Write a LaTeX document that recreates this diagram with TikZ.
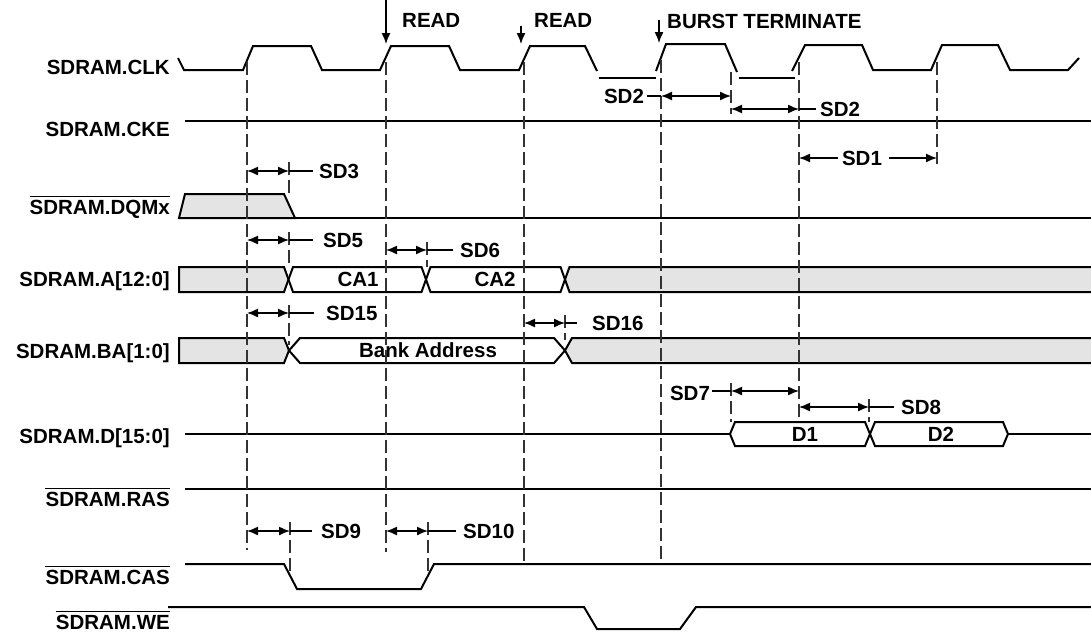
\documentclass[tikz,border=0pt]{standalone}
\usepackage{fontspec}
\setmainfont{Liberation Sans}
\usetikzlibrary{arrows.meta}
\definecolor{busgray}{HTML}{E4E4E4}
\begin{document}
\begin{tikzpicture}[x=1pt,y=-1pt,
  sig/.style={line width=2pt, black, line join=miter},
  bus/.style={sig, fill=busgray},
  guide/.style={line width=1.2pt, black!80, dash pattern=on 13pt off 5pt},
  dim/.style={line width=1.4pt, {Latex[length=11pt,width=9pt]}-{Latex[length=11pt,width=9pt]}},
  onehead/.style={line width=1.4pt, -{Latex[length=11pt,width=9pt]}},
  ext/.style={line width=1.1pt},
  lbl/.style={font=\fontsize{20.5}{20.5}\selectfont\bfseries, inner sep=0pt, text height=14.7pt, text depth=0pt},
  signame/.style={lbl, anchor=east},
  ovl/.style={line width=1.6pt}
]
\useasboundingbox (0,0) rectangle (1091,632);

% ---------- signal names ----------
\node[signame] (nclk) at (170,67)  {SDRAM.CLK};
\node[signame] (ncke) at (170,129) {SDRAM.CKE};
\node[signame] (ndqm) at (170,207) {SDRAM.DQMx};
\node[signame] (na)   at (170,279) {SDRAM.A[12:0]};
\node[signame] (nba)  at (170,351) {SDRAM.BA[1:0]};
\node[signame] (nd)   at (170,436) {SDRAM.D[15:0]};
\node[signame] (nras) at (170,499) {SDRAM.RAS};
\node[signame] (ncas) at (170,577) {SDRAM.CAS};
\node[signame] (nwe)  at (170,622) {SDRAM.WE};
\foreach \n in {ndqm,nras,ncas,nwe}
  \draw[ovl] ([yshift=3pt]\n.north west) -- ([yshift=3pt]\n.north east);

% ---------- CLK ----------
\draw[sig] (178,58) -- (184,70) -- (243,70) -- (253,46) -- (311,46) -- (322,70)
  -- (380,70) -- (391,46) -- (449,46) -- (460,70) -- (519,70) -- (530,46)
  -- (585,46) -- (597,71);
\draw[sig] (599,78) -- (656,78);
\draw[sig] (656,71) -- (666,44) -- (725,44) -- (737,72);
\draw[sig] (739,78) -- (795,78);
\draw[sig] (792,71) -- (805,45) -- (862,45) -- (873,70) -- (931,70) -- (942,45)
  -- (998,45) -- (1010,70) -- (1068,70) -- (1079,58);

% ---------- CKE ----------
\draw[sig] (185,121) -- (1093,121);

% ---------- DQMx ----------
\draw[bus] (179,218) -- (185,194) -- (284,194) -- (295,218) -- cycle;
\draw[sig] (295,218) -- (1093,218);

% ---------- A[12:0] ----------
\draw[bus] (179,267) -- (284,267) -- (288.5,279.5) -- (284,292) -- (179,292) -- cycle;
\draw[sig] (288.5,279.5) -- (293,267) -- (421.5,267) -- (426,279.5) -- (421.5,292) -- (293,292) -- cycle;
\draw[sig] (426,279.5) -- (430.5,267) -- (560.5,267) -- (565,279.5) -- (560.5,292) -- (430.5,292) -- cycle;
\draw[bus] (565,279.5) -- (569.5,267) -- (1095,267) -- (1095,292) -- (569.5,292) -- cycle;
\node[lbl] (ca1) at (358,279.5) {CA1};
\node[lbl] (ca2) at (495,279.5) {CA2};

% ---------- BA[1:0] ----------
\draw[bus] (179,338) -- (284,338) -- (289,350.5) -- (284,363) -- (179,363) -- cycle;
\draw[sig] (289,350.5) -- (300,338) -- (554,338) -- (565,350.5) -- (554,363) -- (300,363) -- cycle;
\draw[bus] (565,350.5) -- (572,338) -- (1095,338) -- (1095,363) -- (572,363) -- cycle;
\node[lbl] (bank) at (428,350.5) {Bank Address};

% ---------- D[15:0] ----------
\draw[sig] (185,434) -- (730,434);
\draw[sig] (730,434) -- (735,422) -- (865,422) -- (870,434) -- (865,446) -- (735,446) -- cycle;
\draw[sig] (870,434) -- (875,422) -- (1003,422) -- (1008,434) -- (1003,446) -- (875,446) -- cycle;
\draw[sig] (1008,434) -- (1093,434);
\node[lbl] (d1) at (805,434) {D1};
\node[lbl] (d2) at (941,434) {D2};

% ---------- RAS, CAS, WE ----------
\draw[sig] (185,489) -- (1093,489);
\draw[sig] (185,564) -- (284,564) -- (297,589) -- (421,589) -- (434,564) -- (1093,564);
\draw[sig] (168,607) -- (584,607) -- (597,629) -- (680,629) -- (696,607) -- (1093,607);

% ---------- guide lines ----------
\draw[guide] (247,62) -- (247,550);
\draw[guide] (386,62) -- (386,552);
\draw[guide] (524,62) -- (524,564);
\draw[guide] (661,60) -- (661,564);
\draw[guide] (799,62) -- (799,422);
\draw[guide] (937,62) -- (937,164);
\draw[guide] (289,162) -- (289,196);
\draw[guide] (289,232) -- (289,267);
\draw[guide] (289,305) -- (289,345);
\draw[guide] (290,522) -- (290,576);
\draw[guide] (427,242) -- (427,267);
\draw[guide] (428,522) -- (428,576);
\draw[guide] (565,315) -- (565,340);
\draw[guide] (731,72) -- (731,114);
\draw[guide] (731,383) -- (731,422);
\draw[guide] (869,399) -- (869,422);

% ---------- command arrows ----------
\coordinate (r1t) at (386,0);   \coordinate (r1b) at (386,44);
\coordinate (r2t) at (521,26);  \coordinate (r2b) at (521,44);
\coordinate (btt) at (659,20);  \coordinate (btb) at (659,43);
\draw[onehead] (r1t) -- (r1b);
\draw[onehead] (r2t) -- (r2b);
\draw[onehead] (btt) -- (btb);
\node[lbl, anchor=west] (read1) at (402,20) {READ};
\node[lbl, anchor=west] (read2) at (534,20) {READ};
\node[lbl, anchor=west] (burst) at (667,21) {BURST TERMINATE};

% ---------- timing dimensions ----------
% SD2 (first)
\node[lbl] (sd2a) at (624,96) {SD2};
\draw[ext] (sd2a.east) ++(3,0) -- (661,96);
\draw[dim] (661,96) -- (731,96);
% SD2 (second)
\draw[dim] (731,109) -- (799,109);
\node[lbl, anchor=west] (sd2b) at (820,109) {SD2};
\draw[ext] (799,109) -- ([xshift=-4pt]sd2b.west);
% SD1
\node[lbl] (sd1) at (862,158) {SD1};
\draw[onehead] ([xshift=-4pt]sd1.west) -- (799,158);
\draw[onehead] ([xshift=7pt]sd1.east) -- (937,158);
% SD3
\draw[dim] (247,171) -- (289,171);
\node[lbl, anchor=west] (sd3) at (319,171) {SD3};
\draw[ext] (289,171) -- ([xshift=-6pt]sd3.west);
% SD5
\draw[dim] (247,240) -- (289,240);
\node[lbl, anchor=west] (sd5) at (323,240) {SD5};
\draw[ext] (289,240) -- ([xshift=-10pt]sd5.west);
% SD6
\draw[dim] (386,250) -- (427,250);
\node[lbl, anchor=west] (sd6) at (460,250) {SD6};
\draw[ext] (427,250) -- ([xshift=-7pt]sd6.west);
% SD15
\draw[dim] (247,313) -- (289,313);
\node[lbl, anchor=west] (sd15) at (326,313) {SD15};
\draw[ext] (289,313) -- ([xshift=-12pt]sd15.west);
% SD16
\draw[dim] (524,323) -- (565,323);
\node[lbl, anchor=west] (sd16) at (592,323) {SD16};
\draw[ext] (565,323) -- ([xshift=-15pt]sd16.west);
% SD7
\node[lbl] (sd7) at (690,393) {SD7};
\draw[ext] (sd7.east) ++(2,-2) -- (731,391);
\draw[dim] (731,391) -- (799,391);
% SD8
\draw[dim] (799,407) -- (869,407);
\node[lbl, anchor=west] (sd8) at (901,407) {SD8};
\draw[ext] (869,407) -- ([xshift=-7pt]sd8.west);
% SD9
\draw[dim] (247,531) -- (290,531);
\node[lbl, anchor=west] (sd9) at (321,531) {SD9};
\draw[ext] (290,531) -- ([xshift=-9pt]sd9.west);
% SD10
\draw[dim] (386,531) -- (428,531);
\node[lbl, anchor=west] (sd10) at (463,531) {SD10};
\draw[ext] (428,531) -- ([xshift=-7pt]sd10.west);
\end{tikzpicture}
\end{document}
